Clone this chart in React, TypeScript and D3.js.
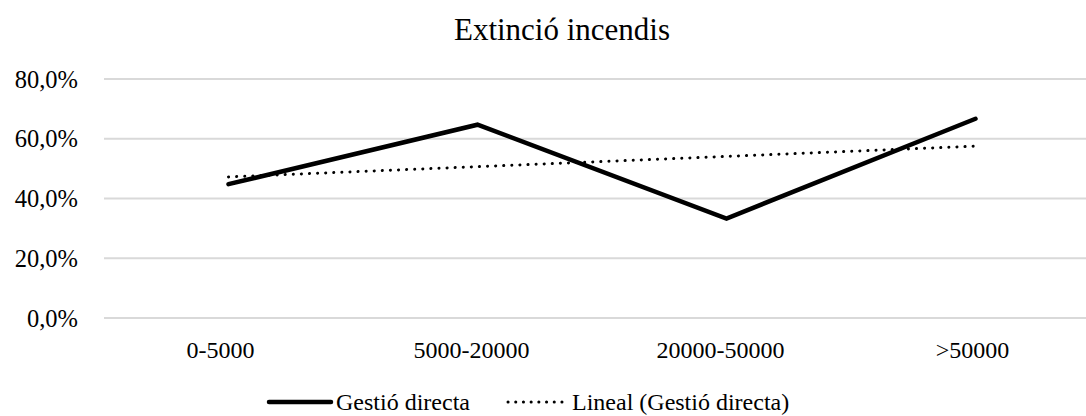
import React from "react";
import * as d3 from "d3";

const categories = ["0-5000", "5000-20000", "20000-50000", ">50000"];
const gestioDirecta = [0.448, 0.647, 0.333, 0.667];
const yTicks = [0, 0.2, 0.4, 0.6, 0.8];
const title = "Extinció incendis";
const seriesName = "Gestió directa";
const trendName = "Lineal (Gestió directa)";

const W = 1086;
const H = 416;
const margin = { left: 104, right: -14, top: 79, bottom: 98 };
const FONT = "Liberation Serif, Times New Roman, DejaVu Serif, serif";

// Least-squares linear trend over category index 1..n
function linearTrend(values: number[]): number[] {
  const xs = values.map((_, i) => i + 1);
  const mx = d3.mean(xs)!;
  const my = d3.mean(values)!;
  const num = d3.sum(xs.map((x, i) => (x - mx) * (values[i] - my)));
  const den = d3.sum(xs.map((x) => (x - mx) * (x - mx)));
  const slope = num / den;
  return xs.map((x) => my + slope * (x - mx));
}

export default function App() {
  const x = d3
    .scalePoint<string>()
    .domain(categories)
    .range([margin.left, W - margin.right])
    .padding(0.5);
  const y = d3.scaleLinear().domain([0, 0.8]).range([H - margin.bottom, margin.top]);
  const fmt = (v: number) => (v * 100).toFixed(1).replace(".", ",") + "%";

  const line = d3
    .line<number>()
    .x((_, i) => x(categories[i])!)
    .y((d) => y(d));
  const trend = linearTrend(gestioDirecta);
  const txt = { fontFamily: FONT };
  const labelShift = [-8, -6, -6, -3];

  return (
    <svg
      width={W}
      height={H}
      style={{ position: "absolute", left: 0, top: 0, background: "#fff", fontFamily: FONT }}
    >
      <rect width={W} height={H} fill="#fff" />
      <text x={562} y={40} textAnchor="middle" fontSize={31} fill="#000" style={txt}>
        {title}
      </text>
      {yTicks.map((t) => (
        <g key={t}>
          <line
            x1={margin.left}
            x2={W - margin.right}
            y1={y(t)}
            y2={y(t)}
            stroke="#d9d9d9"
            strokeWidth={2}
          />
          <text
            x={78}
            y={y(t)}
            dy="0.35em"
            textAnchor="end"
            fontSize={24.5}
            fill="#000"
            style={txt}
          >
            {fmt(t)}
          </text>
        </g>
      ))}
      {categories.map((c, i) => (
        <text
          key={c}
          x={x(c)! + labelShift[i]}
          y={358}
          textAnchor="middle"
          fontSize={24}
          fill="#000"
          style={txt}
        >
          {c}
        </text>
      ))}
      <path
        d={line(gestioDirecta) ?? ""}
        fill="none"
        stroke="#000"
        strokeWidth={4.5}
        strokeLinejoin="miter"
        strokeLinecap="round"
      />
      <path
        d={line(trend) ?? ""}
        fill="none"
        stroke="#000"
        strokeWidth={3}
        strokeDasharray="0.1 8"
        strokeLinecap="round"
      />
      <g>
        <line x1={269} x2={331} y1={402} y2={402} stroke="#000" strokeWidth={4.5} strokeLinecap="round" />
        <text x={336} y={410} fontSize={24} fill="#000" style={txt}>
          {seriesName}
        </text>
        <line
          x1={508}
          x2={568}
          y1={402}
          y2={402}
          stroke="#000"
          strokeWidth={3}
          strokeDasharray="0.1 7.6"
          strokeLinecap="round"
        />
        <text x={572} y={410} fontSize={24} fill="#000" style={txt}>
          {trendName}
        </text>
      </g>
    </svg>
  );
}
